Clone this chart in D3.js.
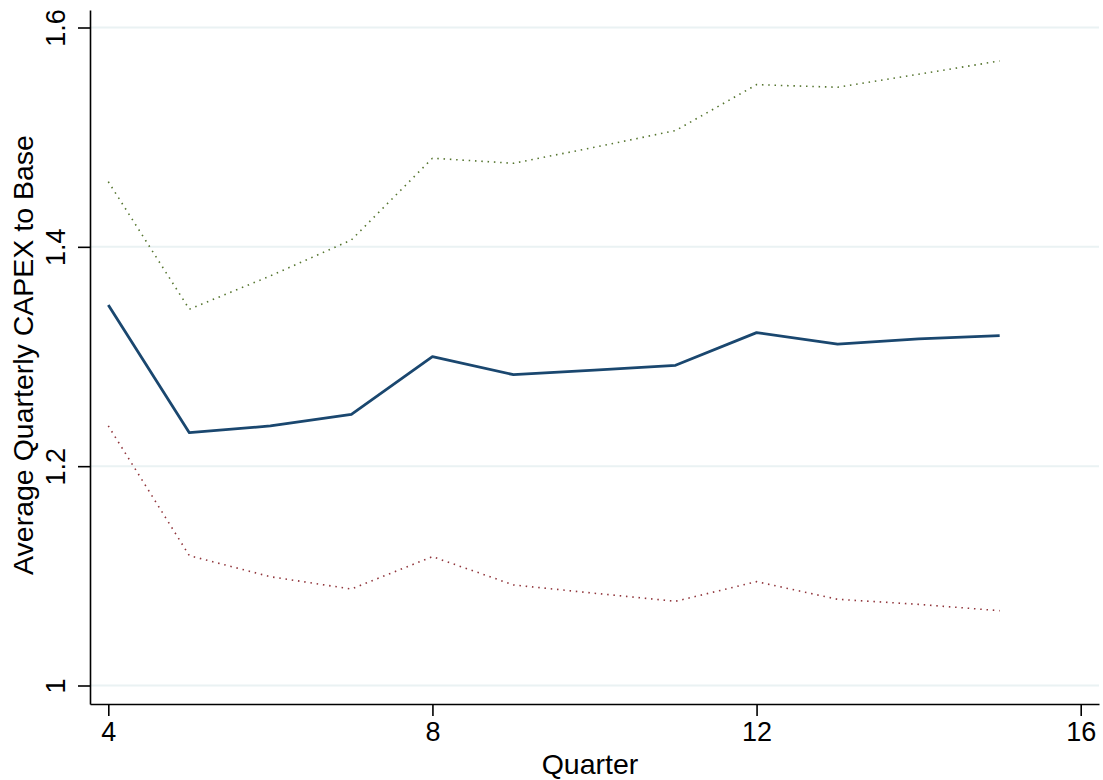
<!DOCTYPE html>
<html>
<head>
<meta charset="utf-8">
<script src="https://cdn.jsdelivr.net/npm/d3@7"></script>
<style>
  body { margin: 0; background: #fff; }
  text { font-family: "Liberation Sans", Arial, Helvetica, sans-serif; }
</style>
</head>
<body>
<script>
// Chart values
var quarters = [4, 5, 6, 7, 8, 9, 10, 11, 12, 13, 14, 15];
var meanCapex = [1.347, 1.2305, 1.2367, 1.2473, 1.2999, 1.2834, 1.2875, 1.292, 1.3218, 1.3112, 1.316, 1.319];
var upperBand = [1.4594, 1.3431, 1.3735, 1.4063, 1.4808, 1.4762, 1.4908, 1.506, 1.5479, 1.5455, 1.5574, 1.5695];
var lowerBand = [1.2367, 1.1184, 1.0992, 1.088, 1.1175, 1.0917, 1.0841, 1.0768, 1.0947, 1.0786, 1.074, 1.0682];
var xTicks = [4, 8, 12, 16];
var yTicks = [1, 1.2, 1.4, 1.6];

var svgWidth = 1103;
var svgHeight = 780;

var svg = d3
  .select("body")
  .append("svg")
  .attr("width", svgWidth)
  .attr("height", svgHeight);

// plot frame: left axis at x=90, bottom axis at y=704
var xScale = d3.scaleLinear().domain([3.7742, 16.2258]).range([90, 1099]);
var yScale = d3.scaleLinear().domain([0.98313, 1.61596]).range([704, 10]);

// gridlines
svg
  .append("g")
  .selectAll("line")
  .data(yTicks)
  .enter()
  .append("line")
  .attr("x1", 90)
  .attr("x2", 1099)
  .attr("y1", (d) => yScale(d))
  .attr("y2", (d) => yScale(d))
  .attr("stroke", "#eaf2f3")
  .attr("stroke-width", 2);

// axes
var leftAxis = d3
  .axisLeft(yScale)
  .tickValues(yTicks)
  .tickSize(12)
  .tickSizeOuter(0)
  .tickFormat(d3.format("~g"));

var yAxis = svg.append("g").attr("transform", "translate(90,0)").call(leftAxis);
yAxis.select(".domain").attr("stroke", "#000").attr("stroke-width", 1.6);
yAxis.selectAll(".tick line").attr("stroke", "#000").attr("stroke-width", 1.6);
yAxis
  .selectAll(".tick text")
  .attr("x", 0)
  .attr("dy", 0)
  .attr("transform", "translate(-25,0) rotate(-90)")
  .attr("text-anchor", "middle")
  .attr("fill", "#000")
  .style("font-size", "27px");

var bottomAxis = d3
  .axisBottom(xScale)
  .tickValues(xTicks)
  .tickSize(12)
  .tickSizeOuter(0)
  .tickFormat(d3.format("d"));

var xAxis = svg.append("g").attr("transform", "translate(0,704)").call(bottomAxis);
xAxis.select(".domain").attr("stroke", "#000").attr("stroke-width", 1.6);
xAxis.selectAll(".tick line").attr("stroke", "#000").attr("stroke-width", 1.6);
xAxis
  .selectAll(".tick text")
  .attr("y", 37)
  .attr("dy", 0)
  .attr("fill", "#000")
  .style("font-size", "27px");

// axis titles
svg
  .append("text")
  .text("Quarter")
  .attr("x", 590)
  .attr("y", 773.5)
  .attr("text-anchor", "middle")
  .style("font-size", "28.5px");

svg
  .append("text")
  .text("Average Quarterly CAPEX to Base")
  .attr("transform", "translate(33,355) rotate(-90)")
  .attr("text-anchor", "middle")
  .style("font-size", "28.5px");

// lines
function makeLine(values) {
  return d3
    .line()
    .x((d, i) => xScale(quarters[i]))
    .y((d) => yScale(d))(values);
}

svg
  .append("path")
  .attr("d", makeLine(upperBand))
  .attr("fill", "none")
  .attr("stroke", "#55752f")
  .attr("stroke-width", 1.6)
  .attr("stroke-dasharray", "1.5,4.8");

svg
  .append("path")
  .attr("d", makeLine(lowerBand))
  .attr("fill", "none")
  .attr("stroke", "#90353b")
  .attr("stroke-width", 1.6)
  .attr("stroke-dasharray", "1.5,4.8");

svg
  .append("path")
  .attr("d", makeLine(meanCapex))
  .attr("fill", "none")
  .attr("stroke", "#1a476f")
  .attr("stroke-width", 2.8)
  .attr("stroke-linejoin", "round");
</script>
</body>
</html>
